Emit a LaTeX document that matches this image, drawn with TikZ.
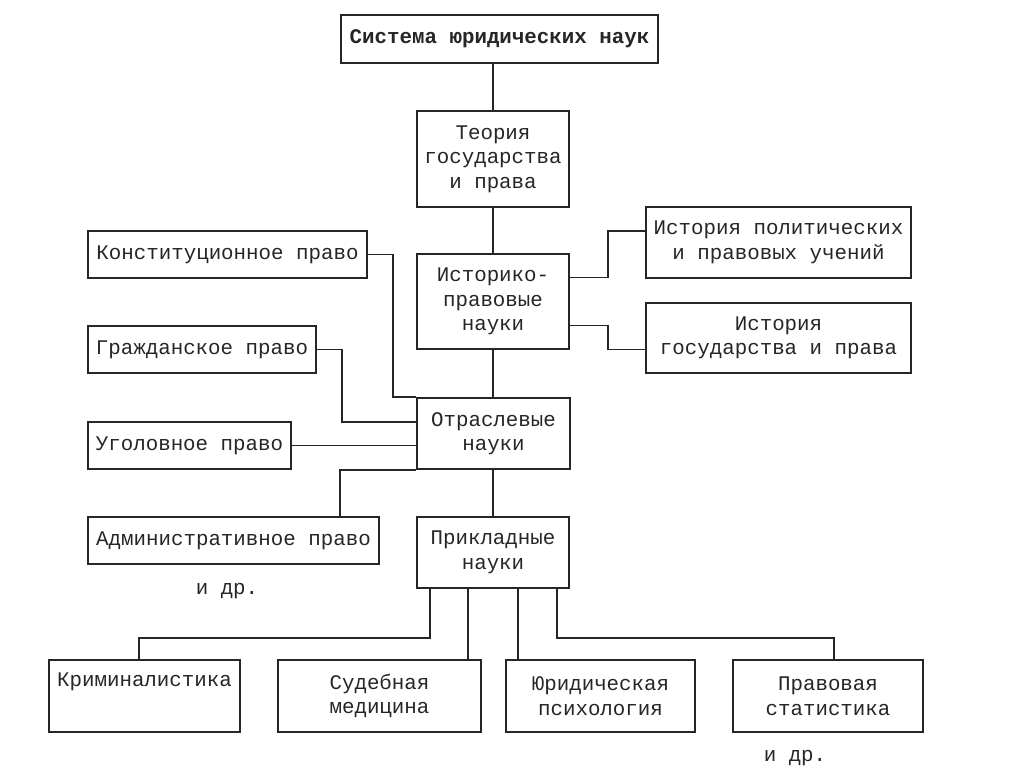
\documentclass[tikz,border=0pt]{standalone}
\usepackage{fontspec}
\setmainfont{Liberation Mono}
\begin{document}
\begin{tikzpicture}[x=1pt,y=-1pt,
  box/.style={draw=black!85,line width=1.6pt,inner sep=0pt,align=center,
    text=black!85,font=\fontsize{20.8}{24.5}\selectfont},
  lbl/.style={inner sep=0pt,text=black!85,font=\fontsize{20.8}{24.5}\selectfont},
  conn/.style={draw=black!85,line width=1.6pt}]
\useasboundingbox[fill=white] (0,0) rectangle (1024,767);
% nodes
\node[box,minimum width=317pt,minimum height=48pt,font=\fontsize{20.8}{24.5}\selectfont\bfseries] (top) at (499.5,39) {Система юридических наук};
\node[box,minimum width=152pt,minimum height=96pt] (teoria) at (493,159) {Теория\\государства\\и права};
\node[box,minimum width=152pt,minimum height=95pt] (istor) at (493,301.5) {Историко-\\правовые\\науки};
\node[box,minimum width=265pt,minimum height=71pt] (hpol) at (778.5,242.5) {История политических\\и правовых учений};
\node[box,minimum width=265pt,minimum height=70pt] (hgos) at (778.5,338) {История\\государства и права};
\node[box,minimum width=153pt,minimum height=71pt] (otr) at (493.5,433.5) {Отраслевые\\науки};
\node[box,minimum width=279pt,minimum height=47pt] (konst) at (227.5,254.5) {Конституционное право};
\node[box,minimum width=228pt,minimum height=47pt] (grazh) at (202,349.5) {Гражданское право};
\node[box,minimum width=203pt,minimum height=47pt] (ugol) at (189.5,445.5) {Уголовное право};
\node[box,minimum width=291pt,minimum height=47pt] (admin) at (233.5,540.5) {Административное право};
\node[box,minimum width=152pt,minimum height=71pt] (prikl) at (493,552.5) {Прикладные\\науки};
\node[box,minimum width=191pt,minimum height=72pt] (krim) at (144.5,696) {Криминалистика\\\strut};
\node[box,minimum width=203pt,minimum height=72pt] (sud) at (379.5,696) {Судебная\\медицина};
\node[box,minimum width=189pt,minimum height=72pt] (yur) at (600.5,696) {Юридическая\\психология};
\node[box,minimum width=190pt,minimum height=72pt] (prav) at (828,696) {Правовая\\статистика};
\node[lbl] (idr1) at (227,591) {и др.};
\node[lbl] (idr2) at (795,758) {и др.};
% connectors
\draw[conn] (teoria.north) -- (teoria.north |- top.south);
\draw[conn] (teoria.south) -- (istor.north);
\draw[conn] (istor.south) -- (istor.south |- otr.north);
\draw[conn] (otr.south -| prikl.north) -- (prikl.north);
\draw[conn] ([yshift=24pt]istor.east) -- ++(38,0) |- ([yshift=11.5pt]hpol.west);
\draw[conn] ([yshift=-24pt]istor.east) -- ++(38,0) |- ([yshift=-11.5pt]hgos.west);
\draw[conn] (konst.east) -- ++(25,0) |- (otr.north west);
\draw[conn] (grazh.east) -- ++(25,0) |- ([yshift=11.5pt]otr.west);
\draw[conn] (ugol.east) -- (ugol.east -| otr.west);
\draw[conn] (otr.south west) -- ++(-76,0) coordinate (c1) -- (c1 |- admin.north);
\draw[conn] ([xshift=-63pt]prikl.south) -- ++(0,49) -| ([xshift=-5.5pt]krim.north);
\draw[conn] ([xshift=-25pt]prikl.south) coordinate (c2) -- (c2 |- sud.north);
\draw[conn] ([xshift=25pt]prikl.south) coordinate (c3) -- (c3 |- yur.north);
\draw[conn] ([xshift=64pt]prikl.south) -- ++(0,49) -| ([xshift=6pt]prav.north);
\end{tikzpicture}
\end{document}
